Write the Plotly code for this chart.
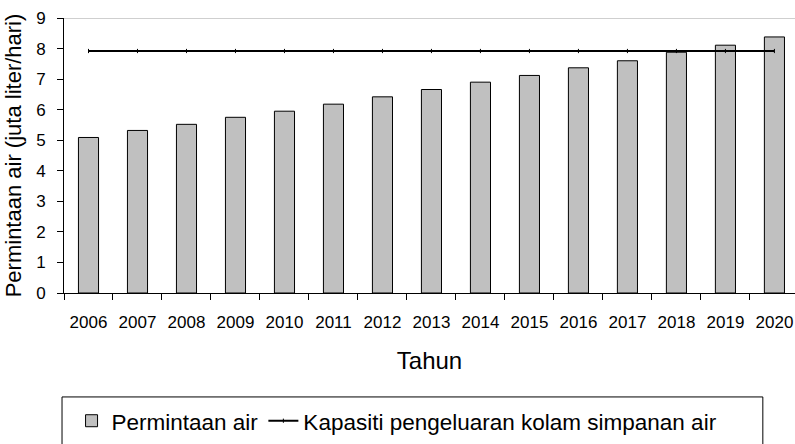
import plotly.graph_objects as go

# data
years = ['2006', '2007', '2008', '2009', '2010', '2011', '2012', '2013',
         '2014', '2015', '2016', '2017', '2018', '2019', '2020']
permintaan = [5.09, 5.32, 5.52, 5.75, 5.95, 6.18, 6.42, 6.66,
              6.90, 7.12, 7.37, 7.60, 7.88, 8.11, 8.38]
kapasiti = [7.92] * len(years)

font_name = 'Liberation Sans, Arial, sans-serif'

bar_trace = go.Bar(x=years, y=permintaan, name='Permintaan air', width=0.41,
                   marker=dict(color='#c0c0c0', line=dict(color='black', width=1)))

# tiny dash markers sitting on the capacity line
line_trace = go.Scatter(x=years, y=kapasiti, mode='lines+markers',
                        name='Kapasiti pengeluaran kolam simpanan air',
                        line=dict(color='black', width=2.2),
                        marker=dict(symbol='line-ns', size=3, color='black',
                                    line=dict(color='black', width=1)))

fig = go.Figure(data=[bar_trace, line_trace])

fig.update_layout(
    width=795, height=444,
    margin=dict(l=64, r=0, t=18, b=151),
    plot_bgcolor='white', paper_bgcolor='white',
    font=dict(family=font_name, color='black'),
    showlegend=True,
    legend=dict(orientation='h', xref='container', yref='container',
                x=0.09, xanchor='left', y=0.1, yanchor='top',
                borderwidth=0, bgcolor='rgba(0,0,0,0)',
                font=dict(size=22.5)),
    xaxis=dict(range=[-0.5, 14.42], tickson='boundaries', ticks='outside',
               ticklen=6, tickcolor='black', showline=True, linecolor='black',
               linewidth=1, showgrid=False, tickfont=dict(size=17),
               ticklabelstandoff=14, automargin=False,
               title=dict(text='Tahun', font=dict(size=24), standoff=20)),
    yaxis=dict(range=[0, 9], dtick=1, ticks='outside', ticklen=6,
               tickcolor='black', showline=True, linecolor='black',
               linewidth=1, showgrid=False, zeroline=False,
               tickfont=dict(size=17), ticklabelstandoff=8, automargin=False,
               title=dict(text='Permintaan air (juta liter/hari)',
                          font=dict(size=22), standoff=8)),
)

# grey top border of the plot area at y = 9
fig.add_shape(type='line', xref='paper', yref='y', x0=0, x1=1, y0=9, y1=9,
              line=dict(color='#a0a0a0', width=1.2))

# legend frame (runs off the bottom edge like the reference)
fig.add_shape(type='rect', xref='paper', yref='paper',
              x0=-0.0027, x1=0.956, y0=-0.378, y1=-0.58,
              line=dict(color='black', width=1), fillcolor='rgba(0,0,0,0)')

# page body has a default 8px margin; drop it so the figure sits at 0,0
fig.write_html("out.html", config={'displayModeBar': False},
               post_script="document.body.style.margin='0px';")
